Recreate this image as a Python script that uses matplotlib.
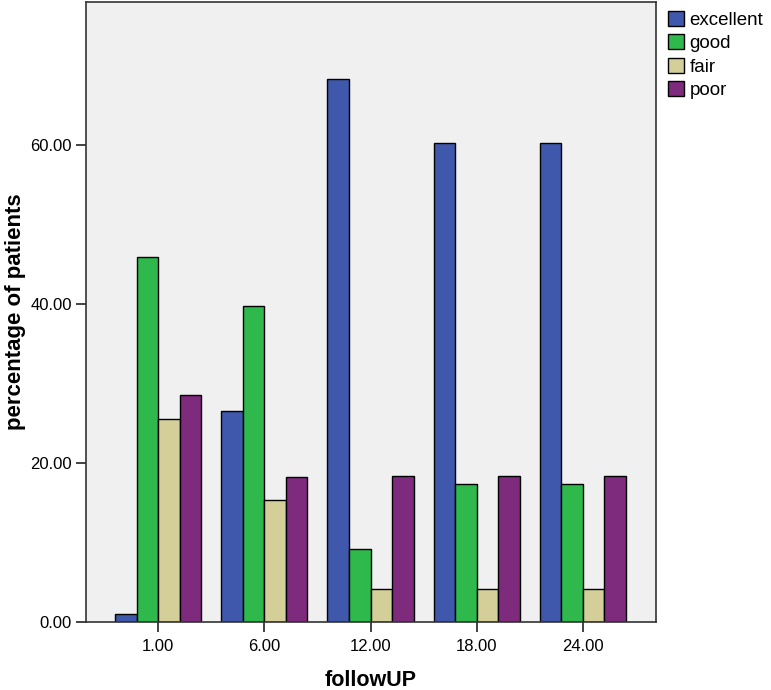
import matplotlib.pyplot as plt
from matplotlib.patches import Patch
import numpy as np

followup = ["1.00", "6.00", "12.00", "18.00", "24.00"]
excellent = [1.0, 26.5, 68.3, 60.2, 60.2]
good = [45.9, 39.8, 9.2, 17.3, 17.3]
fair = [25.5, 15.3, 4.1, 4.1, 4.1]
poor = [28.6, 18.3, 18.4, 18.4, 18.4]

series = [("excellent", excellent, "#3f58ab"),
          ("good", good, "#2fb84b"),
          ("fair", fair, "#d4cf99"),
          ("poor", poor, "#7e2a7d")]

plt.rcParams["font.family"] = ["Liberation Sans", "DejaVu Sans"]

fig = plt.figure(figsize=(7.71, 6.90), dpi=100)
ax = fig.add_axes([0.1115, 0.0986, 0.7395, 0.8985])
ax.set_facecolor("#f0f0f0")

x = np.arange(len(followup))
w = 0.203
for i, (name, vals, col) in enumerate(series):
    ax.bar(x + (i - 1.5) * w, vals, w, color=col, edgecolor="black", linewidth=1.0, label=name)

ax.set_xlim(-0.68, 4.69)
ax.set_ylim(0, 78)
ax.set_xticks(x)
ax.set_xticklabels(followup)
ax.set_yticks([0, 20, 40, 60])
ax.set_yticklabels(["0.00", "20.00", "40.00", "60.00"])
ax.tick_params(axis="both", labelsize=12, length=7, width=1.2, color="#222222")
ax.tick_params(axis="x", pad=5)
ax.tick_params(axis="y", pad=3)
for s in ax.spines.values():
    s.set_linewidth(1.2)
    s.set_color("#333333")

ax.set_xlabel("followUP", fontsize=15.5, fontweight="bold", labelpad=12)
ax.set_ylabel("percentage of patients", fontsize=16, fontweight="bold", labelpad=3)

handles = [Patch(facecolor=c, edgecolor="black", label=n) for n, _, c in series]
fig.legend(handles=handles, loc="upper left", bbox_to_anchor=(0.852, 1.0), frameon=False,
           fontsize=13.5, handlelength=0.85, handleheight=0.85, handletextpad=0.3, labelspacing=0.28,
           borderaxespad=0.2)

fig.savefig("out.png", dpi=100)
